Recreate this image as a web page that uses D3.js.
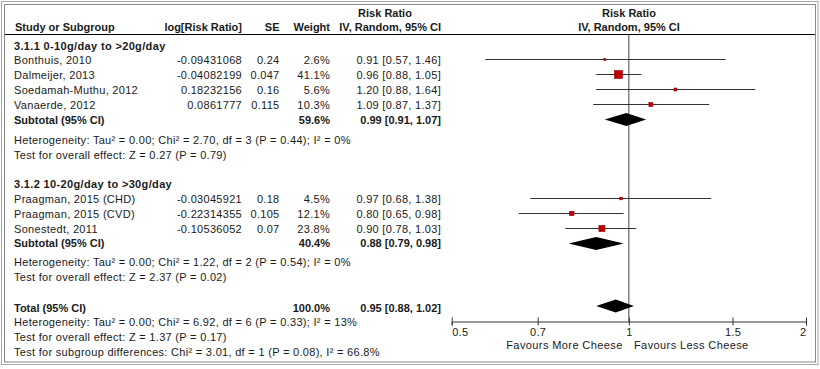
<!DOCTYPE html>
<html><head><meta charset="utf-8">
<script src="https://cdn.jsdelivr.net/npm/d3@7"></script>
<style>
html,body{margin:0;padding:0;background:#fff;}
svg text{font-family:"Liberation Sans",Arial,sans-serif;font-size:11px;fill:#1a1a1a;letter-spacing:0.3px;}
.b{font-weight:bold;letter-spacing:0px;}
.t{font-weight:bold;letter-spacing:0.35px;}
</style>
</head><body>
<svg id="c" width="820" height="369"></svg>
<script>
// ---------- DATA ----------
const group1Title = "3.1.1 0-10g/day to >20g/day";
const group1Studies = ["Bonthuis, 2010", "Dalmeijer, 2013", "Soedamah-Muthu, 2012", "Vanaerde, 2012"];
const group1LogRR = ["-0.09431068", "-0.04082199", "0.18232156", "0.0861777"];
const group1SE = ["0.24", "0.047", "0.16", "0.115"];
const group1Weight = [2.6, 41.1, 5.6, 10.3];
const group1RR = [0.91, 0.96, 1.20, 1.09];
const group1Lo = [0.57, 0.88, 0.88, 0.87];
const group1Hi = [1.46, 1.05, 1.64, 1.37];
const group1Subtotal = {weight: 59.6, rr: 0.99, lo: 0.91, hi: 1.07};
const group1Het = "Heterogeneity: Tau\u00B2 = 0.00; Chi\u00B2 = 2.70, df = 3 (P = 0.44); I\u00B2 = 0%";
const group1Test = "Test for overall effect: Z = 0.27 (P = 0.79)";

const group2Title = "3.1.2 10-20g/day to >30g/day";
const group2Studies = ["Praagman, 2015 (CHD)", "Praagman, 2015 (CVD)", "Sonestedt, 2011"];
const group2LogRR = ["-0.03045921", "-0.22314355", "-0.10536052"];
const group2SE = ["0.18", "0.105", "0.07"];
const group2Weight = [4.5, 12.1, 23.8];
const group2RR = [0.97, 0.80, 0.90];
const group2Lo = [0.68, 0.65, 0.78];
const group2Hi = [1.38, 0.98, 1.03];
const group2Subtotal = {weight: 40.4, rr: 0.88, lo: 0.79, hi: 0.98};
const group2Het = "Heterogeneity: Tau\u00B2 = 0.00; Chi\u00B2 = 1.22, df = 2 (P = 0.54); I\u00B2 = 0%";
const group2Test = "Test for overall effect: Z = 2.37 (P = 0.02)";

const total = {weight: 100.0, rr: 0.95, lo: 0.88, hi: 1.02};
const totalHet = "Heterogeneity: Tau\u00B2 = 0.00; Chi\u00B2 = 6.92, df = 6 (P = 0.33); I\u00B2 = 13%";
const totalTest = "Test for overall effect: Z = 1.37 (P = 0.17)";
const subgroupTest = "Test for subgroup differences: Chi\u00B2 = 3.01, df = 1 (P = 0.08), I\u00B2 = 66.8%";

const tickValues = [0.5, 0.7, 1, 1.5, 2];
const tickLabels = ["0.5", "0.7", "1", "1.5", "2"];
const favoursLeft = "Favours More Cheese";
const favoursRight = "Favours Less Cheese";

// ---------- LAYOUT ----------
const svg = d3.select("#c");

// frame
svg.append("rect").attr("x", 1.5).attr("y", 1.5).attr("width", 816.5).attr("height", 363)
  .attr("fill", "none").attr("stroke", "#a8a8a8");
svg.append("rect").attr("x", 4.5).attr("y", 4.5).attr("width", 811).attr("height", 357.5)
  .attr("fill", "none").attr("stroke", "#8a8a8a");

const colName = 14, colLog = 242, colSE = 279.5, colW = 330, colCI = 441;
const x = d3.scaleLog().domain([0.5, 2]).range([451.7, 806]);
const sq = d3.scaleSqrt().domain([0, 41.1]).range([0, 8]);
const fmt2 = d3.format(".2f");
const ciText = (rr, lo, hi) => `${fmt2(rr)} [${fmt2(lo)}, ${fmt2(hi)}]`;
const pct = w => w.toFixed(1) + "%";

// header
const hdr = svg.append("g");
hdr.append("text").attr("class", "b").attr("x", 385).attr("y", 17).attr("text-anchor", "middle").text("Risk Ratio");
hdr.append("text").attr("class", "b").attr("x", colCI).attr("y", 31).attr("text-anchor", "end").text("IV, Random, 95% CI");
hdr.append("text").attr("class", "b").attr("x", 629).attr("y", 17).attr("text-anchor", "middle").text("Risk Ratio");
hdr.append("text").attr("class", "b").attr("x", 629).attr("y", 31).attr("text-anchor", "middle").text("IV, Random, 95% CI");
hdr.append("text").attr("class", "b").attr("x", 15).attr("y", 31).text("Study or Subgroup");
hdr.append("text").attr("class", "b").attr("x", colLog).attr("y", 31).attr("text-anchor", "end").text("log[Risk Ratio]");
hdr.append("text").attr("class", "b").attr("x", colSE).attr("y", 31).attr("text-anchor", "end").text("SE");
hdr.append("text").attr("class", "b").attr("x", colW).attr("y", 31).attr("text-anchor", "end").text("Weight");
svg.append("line").attr("x1", 5).attr("x2", 815).attr("y1", 34.5).attr("y2", 34.5).attr("stroke", "#000");

// build rows
const rows = [];
function addGroup(title, names, logs, ses, ws, rrs, los, his, sub, het, test, gapAfter) {
  rows.push({type: "title", text: title});
  names.forEach((n, i) => rows.push({type: "study", name: n, log: logs[i], se: ses[i], w: ws[i], rr: rrs[i], lo: los[i], hi: his[i]}));
  rows.push({type: "sub", name: "Subtotal (95% CI)", ...sub});
  rows.push({type: "note", text: het, gap: gapAfter});
  rows.push({type: "note", text: test});
  rows.push({type: "blank"});
}
addGroup(group1Title, group1Studies, group1LogRR, group1SE, group1Weight, group1RR, group1Lo, group1Hi, group1Subtotal, group1Het, group1Test, 5.5);
addGroup(group2Title, group2Studies, group2LogRR, group2SE, group2Weight, group2RR, group2Lo, group2Hi, group2Subtotal, group2Het, group2Test, 4);
rows.push({type: "total", name: "Total (95% CI)", ...total, gap: 1});
rows.push({type: "note", text: totalHet});
rows.push({type: "note", text: totalTest});
rows.push({type: "note", text: subgroupTest});

const pitch = 14.8;
let yc = 45.5 - pitch;
rows.forEach(r => { yc += pitch + (r.gap || 0); r.y = yc; });

const g = svg.append("g");
// vertical line of no effect
g.append("line").attr("x1", x(1)).attr("x2", x(1)).attr("y1", 35).attr("y2", 321.5).attr("stroke", "#444");

rows.forEach(r => {
  const base = r.y + 4;
  if (r.type === "title") {
    g.append("text").attr("class", "t").attr("x", colName).attr("y", base).text(r.text);
  } else if (r.type === "note") {
    g.append("text").attr("x", colName).attr("y", base).text(r.text);
  } else if (r.type === "study") {
    g.append("text").attr("x", colName).attr("y", base).text(r.name);
    g.append("text").attr("x", colLog).attr("y", base).attr("text-anchor", "end").text(r.log);
    g.append("text").attr("x", colSE).attr("y", base).attr("text-anchor", "end").text(r.se);
    g.append("text").attr("x", colW).attr("y", base).attr("text-anchor", "end").text(pct(r.w));
    g.append("text").attr("x", colCI).attr("y", base).attr("text-anchor", "end").text(ciText(r.rr, r.lo, r.hi));
    const ly = Math.round(r.y - 1) + 0.5;
    g.append("line").attr("x1", x(r.lo)).attr("x2", x(r.hi)).attr("y1", ly).attr("y2", ly).attr("stroke", "#333");
    const s = sq(r.w);
    g.append("rect").attr("x", x(r.rr) - s / 2).attr("y", ly - s / 2).attr("width", s).attr("height", s)
      .attr("fill", "#c00000").attr("stroke", "#9a0000").attr("stroke-width", 0.6);
  } else if (r.type === "sub" || r.type === "total") {
    g.append("text").attr("class", "b").attr("x", colName).attr("y", base).text(r.name);
    g.append("text").attr("class", "b").attr("x", colW).attr("y", base).attr("text-anchor", "end").text(pct(r.weight));
    g.append("text").attr("class", "b").attr("x", colCI).attr("y", base).attr("text-anchor", "end").text(ciText(r.rr, r.lo, r.hi));
    const dy = r.type === "total" ? r.y - 1.5 : r.y;
    const hh = 6.5;
    g.append("path").attr("d", `M${x(r.lo)},${dy}L${x(r.rr)},${dy - hh}L${x(r.hi)},${dy}L${x(r.rr)},${dy + hh}Z`)
      .attr("fill", "#000");
  }
});

// axis
const axis = d3.axisBottom(x).tickValues(tickValues).tickFormat((d, i) => tickLabels[i]).tickSizeOuter(0).tickSize(4);
const ag = svg.append("g").attr("transform", "translate(0,321.5)").call(axis);
ag.attr("font-family", null).attr("font-size", null);
ag.select(".domain").attr("stroke", "#333");
ag.selectAll(".tick line").attr("y1", -4).attr("stroke", "#333");
ag.selectAll(".tick text")
  .attr("text-anchor", (d, i) => i === 0 ? "start" : (i === tickValues.length - 1 ? "end" : "middle"))
  .style("fill", "#1a1a1a");

svg.append("text").attr("x", 622.7).attr("y", 349).attr("text-anchor", "end").style("letter-spacing", "0.4px").text(favoursLeft);
svg.append("text").attr("x", 634).attr("y", 349).style("letter-spacing", "0.4px").text(favoursRight);
</script>
</body></html>
